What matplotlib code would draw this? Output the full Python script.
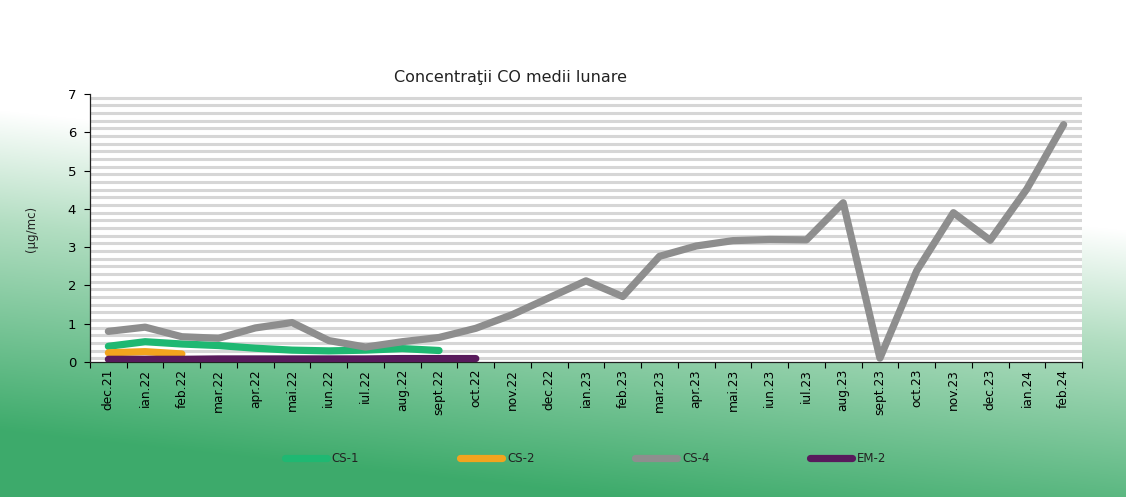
import numpy as np
import matplotlib
matplotlib.use("Agg")
import matplotlib.pyplot as plt
from matplotlib.ticker import FixedLocator

# ---- data ----
months = ["dec.21", "ian.22", "feb.22", "mar.22", "apr.22", "mai.22", "iun.22",
          "iul.22", "aug.22", "sept.22", "oct.22", "nov.22", "dec.22", "ian.23",
          "feb.23", "mar.23", "apr.23", "mai.23", "iun.23", "iul.23", "aug.23",
          "sept.23", "oct.23", "nov.23", "dec.23", "ian.24", "feb.24"]
cs1 = [0.41, 0.53, 0.47, 0.43, 0.36, 0.31, 0.29, 0.31, 0.35, 0.30]
cs2 = [0.24, 0.27, 0.21]
cs4 = [0.80, 0.91, 0.66, 0.62, 0.89, 1.03, 0.56, 0.39, 0.53, 0.64, 0.88, 1.24,
       1.68, 2.12, 1.71, 2.76, 3.03, 3.17, 3.20, 3.19, 4.16, 0.10, 2.38, 3.90,
       3.18, 4.52, 6.20]
em2 = [0.07, 0.07, 0.07, 0.08, 0.08, 0.08, 0.08, 0.08, 0.09, 0.09, 0.09]
series_names = ["CS-1", "CS-2", "CS-4", "EM-2"]
yticks = [0, 1, 2, 3, 4, 5, 6, 7]

W, H = 1126, 497
fig = plt.figure(figsize=(W / 100, H / 100), dpi=100)

# ---- background gradient (white -> mint -> green) ----
yy, xx = np.mgrid[0:H, 0:W]
ystart = 110 + 120 * (xx / W)
t = np.clip((yy - ystart) / 320.0, 0, 1)
mint = np.array([0.70, 0.87, 0.76])
green = np.array([0.24, 0.67, 0.42])
white = np.array([1.0, 1.0, 1.0])
t1 = np.clip(t / 0.35, 0, 1)[..., None]
t2 = np.clip((t - 0.35) / 0.65, 0, 1)[..., None]
img = white * (1 - t1) + mint * t1
img = img * (1 - t2) + green * t2
bg = fig.add_axes([0, 0, 1, 1], zorder=-10)
bg.imshow(img, aspect="auto", extent=[0, 1, 0, 1], origin="upper")
bg.axis("off")

# ---- main axes ----
ax = fig.add_axes([90 / W, 1 - 362 / H, (1082 - 90) / W, (362 - 94) / H])
ax.set_facecolor("white")
ax.set_xlim(-0.5, len(months) - 0.5)
ax.set_ylim(0, 7)

# striped plot-area fill
for s in np.arange(0.1, 7.0, 0.2):
    ax.axhline(s, color="#d6d6d6", lw=2.2, zorder=0)

x = np.arange(len(months))
colors = {"CS-1": "#1fb872", "CS-2": "#f2a41e", "CS-4": "#8e8e8e", "EM-2": "#581a5c"}
data = {"CS-1": cs1, "CS-2": cs2, "CS-4": cs4, "EM-2": em2}
for name in series_names:
    vals = data[name]
    ax.plot(x[:len(vals)], vals, color=colors[name], lw=5.2,
            solid_capstyle="round", solid_joinstyle="round", zorder=3, label=name)

ax.set_yticks(yticks)
ax.set_yticklabels([str(v) for v in yticks], fontsize=9.5)
ax.set_xticks(x)
ax.set_xticklabels(months, rotation=90, fontsize=8.8)
ax.xaxis.set_minor_locator(FixedLocator(np.arange(-0.5, len(months), 1.0)))
ax.tick_params(axis="x", which="major", length=0, pad=5)
ax.tick_params(axis="x", which="minor", length=4, width=0.8, direction="out")
ax.tick_params(axis="y", length=4, width=0.8, direction="out", pad=6)
for sp in ["top", "right"]:
    ax.spines[sp].set_visible(False)
for sp in ["left", "bottom"]:
    ax.spines[sp].set_color("#222222")
    ax.spines[sp].set_linewidth(0.9)

fig.text(0.453, 0.845, "Concentraţii CO medii lunare", ha="center", va="center",
         fontsize=11.5, color="#222222")
fig.text(0.028, 0.54, "(µg/mc)", ha="center", va="center", rotation=90,
         fontsize=8.5, color="#222222")

handles, labels = ax.get_legend_handles_labels()
leg = fig.legend(handles, labels, loc="center", bbox_to_anchor=(0.52, 0.078),
                 ncol=4, frameon=False, fontsize=8.5, handlelength=3.6,
                 handletextpad=0.4, columnspacing=8.5)
for txt in leg.get_texts():
    txt.set_color("#222222")

fig.savefig("out.png", dpi=100)
